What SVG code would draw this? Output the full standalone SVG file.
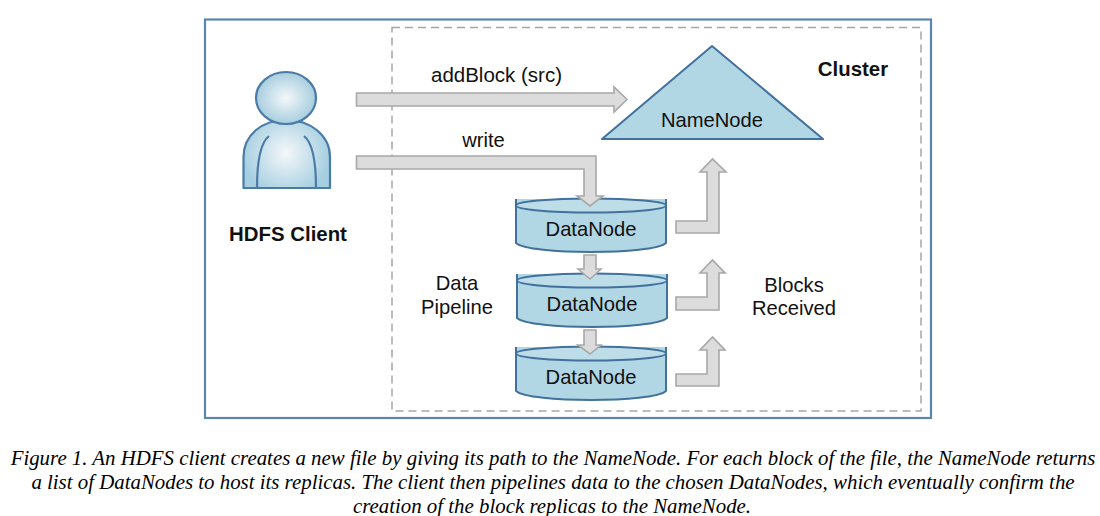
<svg xmlns="http://www.w3.org/2000/svg" width="1100" height="516" viewBox="0 0 1100 516">
<style>
text{font-family:"Liberation Sans",Arial,sans-serif;fill:#111;font-size:20.2px;text-anchor:middle}
.b{font-weight:bold;font-size:20.4px}
.cap{font-family:"Liberation Serif","Times New Roman",serif;font-style:italic;font-size:20.87px;fill:#000}
.n{fill:#b1d6e4;stroke:#41719c;stroke-width:2;stroke-linejoin:round}
.t{fill:#bddde9}
.p{stroke:#4a7ba6;stroke-width:2.2;stroke-linejoin:round}
.a{fill:#dcdcdc;stroke:#a8a8a8;stroke-width:1.6;stroke-linejoin:miter}
</style>
<defs>
<radialGradient id="gh" cx="0.5" cy="0.5" r="0.55"><stop offset="0" stop-color="#f4f8fa"/><stop offset="1" stop-color="#9fc9dc"/></radialGradient>
<radialGradient id="gb" gradientUnits="userSpaceOnUse" cx="286" cy="153" r="44"><stop offset="0" stop-color="#f4f8fa"/><stop offset="1" stop-color="#a5cee0"/></radialGradient>
<g id="cyl">
<path class="n" d="M-75-7V37C-62 49 62 49 75 37V-7"/>
<ellipse class="n t" cx="0" cy="-0.500" rx="75" ry="7"/>
</g>
</defs>
<rect x="205" y="19.500" width="726" height="398.500" fill="#fff" stroke="#5b87ad" stroke-width="2.200"/>
<rect x="392" y="27.500" width="529" height="383.500" fill="none" stroke="#a6a6a6" stroke-width="1.500" stroke-dasharray="8 5"/>
<g id="client">
<path class="p" d="M243.500 188V157C243.500 135 262 120 286 120S330 135 330 157V188Z" fill="url(#gb)"/>
<path class="p" fill="none" d="M269 136C260 143 257 165 257 188M304 136C313 143 316 165 316 188"/>
<ellipse class="p" cx="286" cy="98" rx="30" ry="26" fill="url(#gh)"/>
<text class="b" x="288" y="241">HDFS Client</text>
</g>
<g id="namenode">
<polygon class="n" points="712,46 823,139 602,139"/>
<text x="712" y="126.500">NameNode</text>
</g>
<g id="datanode1"><use href="#cyl" x="591" y="206"/><text x="591" y="236">DataNode</text></g>
<g id="datanode2"><use href="#cyl" x="592" y="281"/><text x="592" y="310.500">DataNode</text></g>
<g id="datanode3"><use href="#cyl" x="591" y="354"/><text x="591" y="383.500">DataNode</text></g>
<g id="connectors">
<path class="a" d="M356.500 93H614V87L627 99.500 614 112V106H356.500Z"/>
<path class="a" d="M356.500 156H596V196H603L590 206 577 196H584V169H356.500Z"/>
<path class="a" d="M584 255H596V269H601L590 279 578 269H584Z"/>
<path class="a" d="M584 330H596V345H601L590 354 578 345H584Z"/>
<path class="a" d="M676 221H707V172H700L712.500 159 726 172H719V233H676Z"/>
<path class="a" d="M676 297H707V273H700L712.500 260 725 273H719V310H676Z"/>
<path class="a" d="M676 374H707V350H700L712.500 337 725 350H719V386H676Z"/>
</g>
<g id="labels">
<text x="496.500" y="82" style="font-size:20.500px">addBlock (src)</text>
<text x="483.500" y="146.500">write</text>
<text class="b" x="853" y="75.500">Cluster</text>
<text x="457" y="289.500">Data</text>
<text x="457" y="313.500">Pipeline</text>
<text x="794" y="291.500">Blocks</text>
<text x="794" y="314.500">Received</text>
</g>
<g id="caption">
<text class="cap" x="553" y="465">Figure 1. An HDFS client creates a new file by giving its path to the NameNode. For each block of the file, the NameNode returns</text>
<text class="cap" x="553" y="489">a list of DataNodes to host its replicas. The client then pipelines data to the chosen DataNodes, which eventually confirm the</text>
<text class="cap" x="552" y="513">creation of the block replicas to the NameNode.</text>
</g>
</svg>
